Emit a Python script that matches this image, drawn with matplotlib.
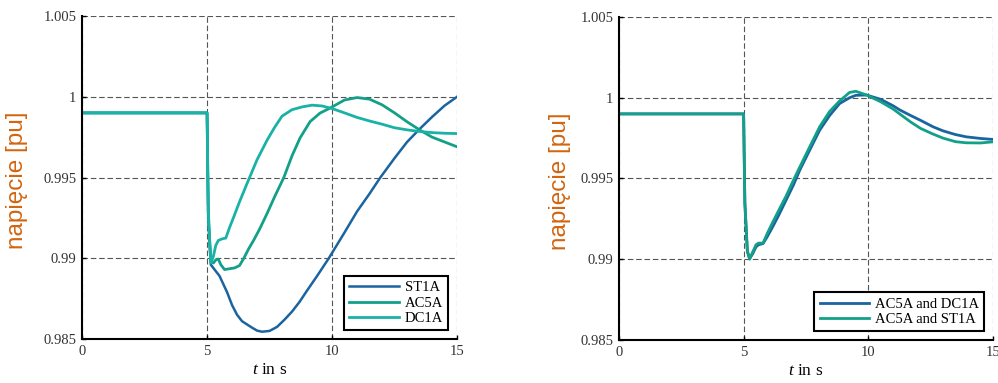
import numpy as np
import matplotlib
matplotlib.use("Agg")
import matplotlib.pyplot as plt
from matplotlib.ticker import FuncFormatter

plt.rcParams["mathtext.fontset"] = "custom"
plt.rcParams["mathtext.it"] = "Liberation Serif:italic"
plt.rcParams["mathtext.rm"] = "Liberation Serif"

# left panel: single exciter models
t_st1a = [0, 5.0, 5.05, 5.15, 5.3, 5.5, 5.8, 6.0, 6.2, 6.4, 6.6, 6.8, 7.0, 7.2, 7.5, 7.8,
          8.1, 8.4, 8.7, 9.0, 9.4, 9.87, 10.5, 11.0, 11.5, 11.93, 12.5, 13.0, 13.5, 14.0, 14.5, 15]
v_st1a = [0.999, 0.999, 0.9925, 0.9896, 0.9893, 0.9889, 0.9879, 0.9871, 0.9865, 0.9861, 0.9859,
          0.9857, 0.98552, 0.98545, 0.9855, 0.98575, 0.9862, 0.9867, 0.9873, 0.9880, 0.9889,
          0.9900, 0.9916, 0.9929, 0.9940, 0.9950, 0.9962, 0.9972, 0.9980, 0.99875, 0.99945, 1.0000]

t_ac5a = [0, 5.0, 5.05, 5.15, 5.25, 5.35, 5.45, 5.55, 5.7, 5.9, 6.1, 6.3, 6.47, 6.67, 6.87,
          7.1, 7.4, 7.7, 8.07, 8.4, 8.72, 9.12, 9.52, 9.92, 10.5, 11.0, 11.5, 12.0, 12.5,
          13.0, 13.5, 14.0, 14.5, 15]
v_ac5a = [0.999, 0.999, 0.9925, 0.9898, 0.9897, 0.9899, 0.98995, 0.9896, 0.9893, 0.98935,
          0.9894, 0.98955, 0.9900, 0.9906, 0.99113, 0.9918, 0.99277, 0.9938, 0.9950, 0.99635,
          0.99745, 0.99846, 0.99899, 0.9993, 0.9998, 0.99995, 0.99985, 0.9995, 0.9990,
          0.99845, 0.99795, 0.9975, 0.9972, 0.9969]

t_dc1a = [0, 5.0, 5.05, 5.15, 5.25, 5.35, 5.45, 5.6, 5.75, 5.9, 6.07, 6.3, 6.6, 7.0, 7.4,
          7.7, 8.0, 8.4, 8.8, 9.2, 9.6, 10.0, 10.5, 11.0, 11.5, 12.0, 12.5, 13.0, 13.5,
          14.0, 14.5, 15]
v_dc1a = [0.999, 0.999, 0.993, 0.9897, 0.9901, 0.9908, 0.9911, 0.9912, 0.99125, 0.9919,
          0.99257, 0.9935, 0.99463, 0.9961, 0.99731, 0.9981, 0.9988, 0.9992, 0.99937,
          0.99948, 0.99943, 0.99927, 0.9990, 0.99872, 0.9985, 0.9983, 0.99808, 0.99795,
          0.99785, 0.99778, 0.99774, 0.99772]

# right panel: combined models
t_comb = [0, 5.0, 5.05, 5.15, 5.24, 5.35, 5.5, 5.6, 5.78, 5.95, 6.17, 6.4, 6.7, 7.0, 7.25,
          7.6, 8.05, 8.45, 8.85, 9.25, 9.5, 9.93, 10.5, 11.0, 11.26, 11.7, 12.1, 12.6, 13.0,
          13.5, 13.93, 14.5, 15]
v_ac5a_dc1a = [0.999, 0.999, 0.9935, 0.9905, 0.99005, 0.9903, 0.99077, 0.9909, 0.99097,
               0.9914, 0.99202, 0.9927, 0.99365, 0.9946, 0.99551, 0.9966, 0.99799, 0.9989,
               0.99964, 1.0000, 1.00015, 1.00017, 0.9999, 0.9995, 0.99925, 0.9989, 0.9986,
               0.9982, 0.99795, 0.99772, 0.99758, 0.99748, 0.99742]
v_ac5a_st1a = [0.999, 0.999, 0.9935, 0.9905, 0.9900, 0.9904, 0.9909, 0.9910, 0.9910,
               0.9916, 0.9923, 0.9930, 0.9939, 0.9949, 0.9957, 0.9968, 0.9982, 0.99915,
               0.9998, 1.00033, 1.00040, 1.00017, 0.99975, 0.9993, 0.9990, 0.9985, 0.9981,
               0.99775, 0.9975, 0.99728, 0.99721, 0.9972, 0.99727]

x_ticks = [0, 5, 10, 15]
y_ticks = [0.985, 0.99, 0.995, 1.0, 1.005]

c_blue = "#1a64a0"
c_green = "#13a088"
c_cyan = "#1ab2a6"
c_label = "#d2650f"

fig = plt.figure(figsize=(9.98, 3.83), dpi=100)
ax1 = fig.add_axes([0.0822, 0.1149, 0.3758, 0.8433])
ax2 = fig.add_axes([0.6202, 0.1123, 0.3747, 0.8433])

ax1.plot(t_st1a, v_st1a, color=c_blue, lw=1.8, label="ST1A")
ax1.plot(t_ac5a, v_ac5a, color=c_green, lw=2.0, label="AC5A")
ax1.plot(t_dc1a, v_dc1a, color=c_cyan, lw=2.0, label="DC1A")

ax2.plot(t_comb, v_ac5a_dc1a, color=c_blue, lw=2.0, label="AC5A and DC1A")
ax2.plot(t_comb, v_ac5a_st1a, color=c_green, lw=2.0, label="AC5A and ST1A")

def fmt(v, pos):
    return "%g" % round(v, 4)

for ax, lab_x in ((ax1, -0.145), (ax2, -0.127)):
    ax.set_xlim(0, 15)
    ax.set_ylim(0.985, 1.005)
    ax.set_xticks(x_ticks)
    ax.set_yticks(y_ticks)
    ax.yaxis.set_major_formatter(FuncFormatter(fmt))
    ax.grid(True, ls=(0, (5, 2.5)), color="#555555", lw=0.8)
    for s in ("top", "right"):
        ax.spines[s].set_visible(False)
    for s in ("left", "bottom"):
        ax.spines[s].set_linewidth(1.5)
    ax.tick_params(direction="in", length=3, width=1, labelsize=10.5,
                   labelcolor="#333333", pad=4)
    for lab in ax.get_xticklabels() + ax.get_yticklabels():
        lab.set_family("Liberation Serif")
    ax.set_xlabel(r"$t$ in s", family="Liberation Serif", fontsize=12.5, labelpad=3)
    ax.set_ylabel("napięcie [pu]", family="Liberation Sans", fontsize=17.5,
                  color=c_label)
    ax.yaxis.set_label_coords(lab_x, 0.49)
    leg = ax.legend(loc="lower right", fancybox=False, framealpha=1,
                    edgecolor="black", handlelength=3.4, borderaxespad=0.6,
                    prop={"family": "Liberation Serif", "size": 10.5},
                    labelspacing=0.15, borderpad=0.35, handletextpad=0.4)
    leg.get_frame().set_linewidth(1.5)

plt.savefig("out.png", dpi=100)
